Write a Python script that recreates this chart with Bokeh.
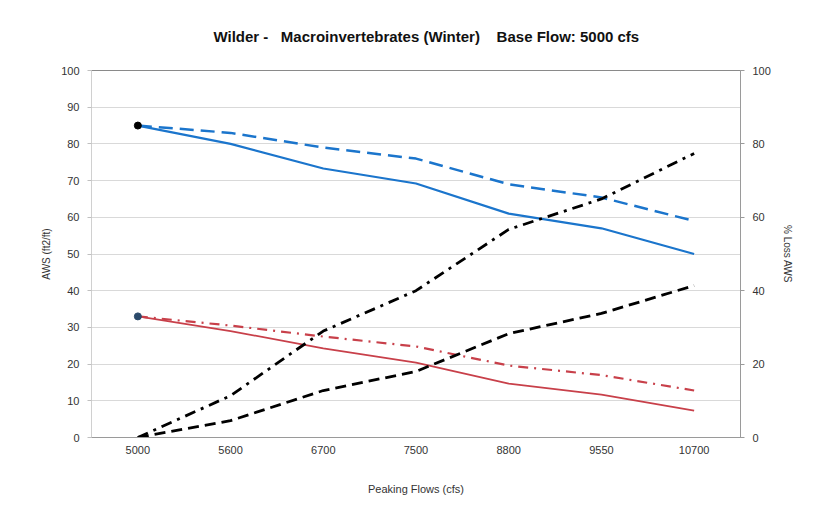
from bokeh.plotting import figure
from bokeh.models import Range1d, LinearAxis, FixedTicker, FactorRange
from bokeh.embed import file_html
from bokeh.resources import INLINE

categories = ["5000", "5600", "6700", "7500", "8800", "9550", "10700"]
aws_blue_solid = [85, 80, 73.3, 69.2, 61, 57, 50]
aws_blue_dash = [85, 83, 79, 76, 69, 65.4, 59]
aws_red_solid = [33, 29, 24.3, 20.4, 14.7, 11.7, 7.3]
aws_red_dashdot = [33, 30.5, 27.5, 24.8, 19.6, 17, 12.8]
loss_dashdot = [0, 11.4, 29, 40, 56.7, 65, 77.4]
loss_dash = [0, 4.6, 12.8, 18, 28.3, 33.8, 41.4]
left_ticks = [0, 10, 20, 30, 40, 50, 60, 70, 80, 90, 100]
right_ticks = [0, 20, 40, 60, 80, 100]

FONT = "Liberation Sans"
NB = "\u00a0"

p = figure(width=812, height=499, output_backend="svg", toolbar_location=None,
           x_range=FactorRange(*categories, range_padding=0), y_range=Range1d(0, 100),
           min_border_left=91, min_border_right=72, min_border_top=70, min_border_bottom=62,
           title="Wilder -" + NB * 3 + "Macroinvertebrates (Winter)" + NB * 4 + "Base Flow: 5000 cfs")
p.extra_y_ranges = {"loss": Range1d(0, 100)}

p.title.align = "left"
p.title.vertical_align = "top"
p.title.text_font = FONT
p.title.text_font_size = "15px"
p.title.text_font_style = "bold"
p.title.text_color = "#111111"
p.title.offset = 122
p.title.standoff = 48

p.outline_line_color = "#8a8a8a"
p.outline_line_width = 1
p.background_fill_color = "white"
p.border_fill_color = "white"

p.xgrid.grid_line_color = None
p.ygrid.grid_line_color = "#d9d9d9"
p.ygrid.ticker = FixedTicker(ticks=left_ticks)

# left axis
ya = p.yaxis[0]
ya.ticker = FixedTicker(ticks=left_ticks)
ya.axis_label = "AWS (ft2/ft)"
ya.axis_label_text_font = FONT
ya.axis_label_text_font_size = "10px"
ya.axis_label_text_font_style = "normal"
ya.axis_label_text_color = "#333333"
ya.axis_label_standoff = 6
ya.major_label_text_font = FONT
ya.major_label_text_font_size = "11px"
ya.major_label_text_color = "#333333"
ya.major_label_standoff = 8
ya.axis_line_color = "#d0d0d0"
ya.major_tick_line_color = "#c0c0c0"
ya.major_tick_out = 4
ya.major_tick_in = 0
ya.minor_tick_line_color = None

# right axis
ra = LinearAxis(y_range_name="loss", ticker=FixedTicker(ticks=right_ticks))
ra.axis_label = "% Loss AWS"
ra.axis_label_text_font = FONT
ra.axis_label_text_font_size = "10px"
ra.axis_label_text_font_style = "normal"
ra.axis_label_text_color = "#333333"
ra.axis_label_standoff = 8
ra.major_label_text_font = FONT
ra.major_label_text_font_size = "11px"
ra.major_label_text_color = "#333333"
ra.major_label_standoff = 8
ra.axis_line_color = "#9a9a9a"
ra.major_tick_line_color = "#9a9a9a"
ra.major_tick_out = 4
ra.major_tick_in = 0
ra.minor_tick_line_color = None
p.add_layout(ra, "right")

# x axis
xa = p.xaxis[0]
xa.axis_label = "Peaking Flows (cfs)"
xa.axis_label_text_font = FONT
xa.axis_label_text_font_size = "11px"
xa.axis_label_text_font_style = "normal"
xa.axis_label_text_color = "#333333"
xa.axis_label_standoff = 26
xa.major_label_text_font = FONT
xa.major_label_text_font_size = "11px"
xa.major_label_text_color = "#333333"
xa.major_label_standoff = 8
xa.axis_line_color = "#9a9a9a"
xa.major_tick_line_color = None
xa.major_tick_out = 0

BLUE = "#1b75cc"
RED = "#c8404a"

p.line(categories, aws_blue_dash, line_color=BLUE, line_width=2.5, line_dash="14 7")
p.line(categories, aws_blue_solid, line_color=BLUE, line_width=2.2)
p.line(categories, aws_red_dashdot, line_color=RED, line_width=2.2, line_dash="10 6 2 6")
p.line(categories, aws_red_solid, line_color=RED, line_width=1.8)
p.line(categories, loss_dashdot, line_color="black", line_width=2.8, line_dash="11 6 3 6",
       y_range_name="loss")
p.line(categories, loss_dash, line_color="black", line_width=2.8, line_dash="11 6",
       y_range_name="loss")

p.scatter(categories[:1], aws_blue_solid[:1], size=7, color="black")
p.scatter(categories[:1], aws_red_solid[:1], size=7, color="#2b4a6b")

open("out.html", "w").write(file_html(p, INLINE))
